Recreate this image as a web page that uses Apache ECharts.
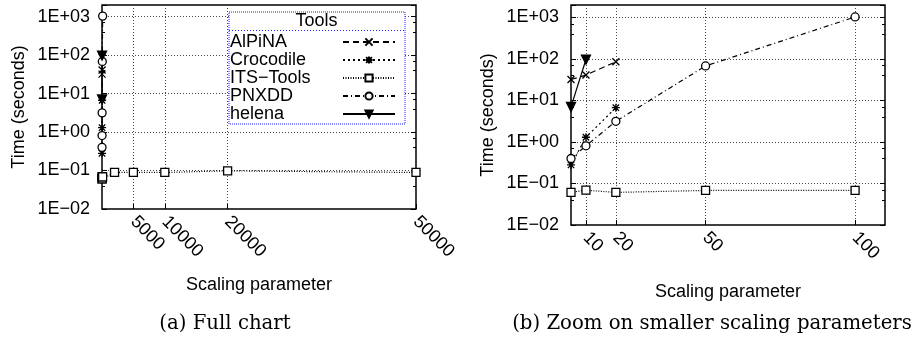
<!DOCTYPE html>
<html><head><meta charset="utf-8">
<script src="https://cdn.jsdelivr.net/npm/echarts@6/dist/echarts.min.js"></script>
<style>html,body{margin:0;padding:0;background:#fff}#c{width:915px;height:339px}</style>
</head><body><div id="c"></div>
<script>
// ---- data ----
const toolNames = ['AlPiNA', 'Crocodile', 'ITS\u2212Tools', 'PNXDD', 'helena'];
const alpinaX = [5, 10, 20];
const alpinaY = [32, 41, 86];
const crocodileX = [5, 10, 20];
const crocodileY = [0.28, 1.3, 6.7];
const itsX = [5, 10, 20, 50, 100, 2000, 5000, 10000, 20000, 50000];
const itsY = [0.061, 0.069, 0.061, 0.068, 0.068, 0.089, 0.089, 0.089, 0.098, 0.089];
const pnxddX = [5, 10, 20, 50, 100];
const pnxddY = [0.40, 0.81, 3.15, 68, 1030];
const helenaX = [5, 10];
const helenaY = [7.0, 97];
const fullTicks = [5000, 10000, 20000, 50000];
const zoomTicks = [10, 20, 50, 100];
const captions = ['(a) Full chart', '(b) Zoom on smaller scaling parameters'];
const xTitle = 'Scaling parameter';
const yTitle = 'Time (seconds)';
const legendTitle = 'Tools';

// ---- styling ----
const FONT = 'Liberation Sans';
const styles = [
  {symbol: 'path://M0,0L10,10M10,0L0,10', size: 7, dash: [6, 4], fill: '#000'},
  {symbol: 'path://M1,1L9,9M9,1L1,9M5,0L5,10M0,5L10,5', size: 8, dash: [2, 3], fill: '#000'},
  {symbol: 'rect', size: 8, dash: [1, 1.5], fill: '#fff'},
  {symbol: 'circle', size: 8, dash: [5, 3, 1, 3], fill: '#fff'},
  {symbol: 'path://M0,0L10,0L5,9Z', size: 9, dash: 'solid', fill: '#000'}
];
const xsList = [alpinaX, crocodileX, itsX, pnxddX, helenaX];
const ysList = [alpinaY, crocodileY, itsY, pnxddY, helenaY];

function pts(xs, ys, maxX) {
  return xs.map((x, i) => [x, ys[i]]).filter(p => p[0] <= maxX);
}

function makeSeries(gridIdx, maxX) {
  return toolNames.map((name, i) => ({
    name: name,
    type: 'line',
    xAxisIndex: gridIdx,
    yAxisIndex: gridIdx * 2,
    data: pts(xsList[i], ysList[i], maxX),
    symbol: styles[i].symbol,
    symbolSize: styles[i].size,
    showAllSymbol: true,
    clip: true,
    lineStyle: {color: '#000', width: 1.2, type: styles[i].dash},
    itemStyle: {color: styles[i].fill, borderColor: '#000', borderWidth: 1.3},
    emphasis: {disabled: true},
    z: 5
  }));
}

const gridLine = {show: true, lineStyle: {color: '#444', width: 1, type: [1, 2]}};

function yAxisPair(gridIdx) {
  const base = {
    type: 'log', logBase: 10, min: 0.01, max: 2000, gridIndex: gridIdx,
    axisLine: {show: false},
    axisTick: {show: true, inside: true, length: 5, lineStyle: {color: '#000', width: 1}},
    minorTick: {show: true, splitNumber: 3, length: 3, lineStyle: {color: '#000', width: 1}}
  };
  return [
    Object.assign({}, base, {
      position: 'left',
      name: yTitle, nameLocation: 'middle', nameRotate: 90, nameGap: 74,
      nameTextStyle: {fontFamily: FONT, fontSize: 18, color: '#000'},
      splitLine: gridLine,
      axisLabel: {
        show: true, margin: 12, fontFamily: FONT, fontSize: 18, color: '#000',
        formatter: function (v) {
          const e = Math.log10(v);
          const r = Math.round(e);
          if (Math.abs(e - r) > 1e-6) return '';
          const s = r < 0 ? '\u2212' : '+';
          const a = Math.abs(r);
          return '1E' + s + (a < 10 ? '0' : '') + a;
        }
      }
    }),
    Object.assign({}, base, {
      position: 'right',
      splitLine: {show: false},
      axisLabel: {show: false}
    })
  ];
}

function xAxis(gridIdx, min, max, ticks, gap) {
  return {
    type: 'value', gridIndex: gridIdx, min: min, max: max,
    name: xTitle, nameLocation: 'middle', nameGap: gap,
    nameTextStyle: {fontFamily: FONT, fontSize: 18, color: '#000'},
    axisLine: {show: false},
    axisTick: {show: true, inside: true, length: 5, customValues: ticks, lineStyle: {color: '#000', width: 1}},
    axisLabel: {show: true, customValues: ticks, rotate: -45, margin: 10, fontFamily: FONT, fontSize: 18, color: '#000', hideOverlap: false,
      formatter: function (v) { return String(v); }},
    splitLine: gridLine
  };
}

const chart = echarts.init(document.getElementById('c'), null, {renderer: 'canvas'});
chart.setOption({
  animation: false,
  backgroundColor: '#fff',
  grid: [
    {left: 102, top: 5, width: 314, height: 204, show: true, borderColor: '#000', borderWidth: 1.5, backgroundColor: 'transparent'},
    {left: 571, top: 5, width: 314, height: 220, show: true, borderColor: '#000', borderWidth: 1.5, backgroundColor: 'transparent'}
  ],
  xAxis: [
    xAxis(0, 0, 50000, fullTicks, 67),
    xAxis(1, 5, 110, zoomTicks, 58)
  ],
  yAxis: yAxisPair(0).concat(yAxisPair(1)),
  title: [
    {text: captions[0], left: 220, top: 309, textAlign: 'center',
     textStyle: {fontFamily: 'DejaVu Serif', fontSize: 19.7, fontWeight: 'normal', color: '#000'}},
    {text: captions[1], left: 707, top: 309, textAlign: 'center',
     textStyle: {fontFamily: 'DejaVu Serif', fontSize: 19.7, fontWeight: 'normal', color: '#000'}}
  ],
  legend: {
    data: toolNames,
    orient: 'vertical', left: 229, top: 12, align: 'right',
    itemWidth: 52, itemHeight: 9, itemGap: 0,
    padding: [21, 9, 1, 1],
    backgroundColor: '#fff', borderColor: '#2222ff', borderWidth: 1, borderType: 'dotted',
    selectedMode: false,
    formatter: function (n) { return '{t|' + n + '}'; },
    textStyle: {rich: {t: {width: 108, align: 'left', fontSize: 18, fontFamily: FONT, color: '#000', lineHeight: 18}}}
  },
  graphic: [
    {type: 'text', z: 100, x: 316.5, y: 21,
     style: {text: legendTitle, fontFamily: FONT, fontSize: 18, fill: '#000', textAlign: 'center', textVerticalAlign: 'middle'}},
    {type: 'line', z: 100, shape: {x1: 229, y1: 30.5, x2: 404, y2: 30.5},
     style: {stroke: '#2222ff', lineWidth: 1, lineDash: [1, 2]}}
  ],
  series: makeSeries(0, Infinity).concat(makeSeries(1, 110))
});
</script>
</body></html>
